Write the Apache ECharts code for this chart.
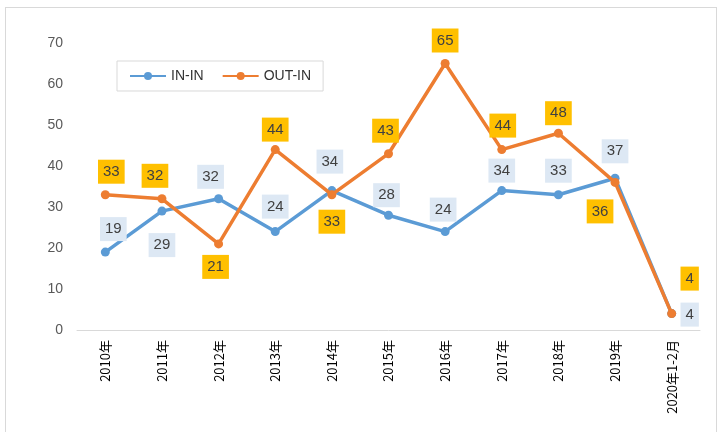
<!DOCTYPE html>
<html><head><meta charset="utf-8">
<script src="https://cdn.jsdelivr.net/npm/echarts@6/dist/echarts.min.js"></script>
<style>
html,body{margin:0;padding:0;background:#fff;}
#frame{position:absolute;left:5px;top:7px;width:712px;height:440px;border:1px solid #d9d9d9;box-sizing:border-box;}
#c{position:absolute;left:0;top:0;width:723px;height:432px;}
</style></head>
<body><div id="frame"></div><div id="c"></div>
<script>
const categories = ['2010年','2011年','2012年','2013年','2014年','2015年','2016年','2017年','2018年','2019年','2020年1-2月'];
const inIn = [19,29,32,24,34,28,24,34,33,37,4];
const outIn = [33,32,21,44,33,43,65,44,48,36,4];
const yTicks = {min:0, max:70, interval:10};

// label offsets (style only)
const inOff = [[8,-23],[0,34],[-8,-22],[0,-25],[-2,-29],[-2,-20],[-2,-22],[0,-20],[0,-24],[0,-27],[18,1]];
const outOff = [[6,-23],[-7,-23],[-3,23],[0,-20],[0,27],[-3,-23],[0,-23],[1,-24],[0,-20],[-15,29],[18,-35]];

function items(vals, offs){
  return vals.map((v,i)=>({value:v, label:{offset:offs[i]}}));
}
const chart = echarts.init(document.getElementById('c'));
const font = '"Liberation Sans", "Noto Sans CJK SC", sans-serif';
chart.setOption({
  animation:false,
  grid:{left:77,right:23,top:43,bottom:102,containLabel:false},
  legend:{
    left:117, top:61, itemWidth:36, itemHeight:10, itemGap:18,
    padding:[8,12,8,12],
    borderColor:'#d9d9d9', borderWidth:1,
    textStyle:{fontSize:14,color:'#333',fontFamily:font},
    data:['IN-IN','OUT-IN']
  },
  xAxis:{
    type:'category', data:categories, boundaryGap:true,
    axisLine:{lineStyle:{color:'#d9d9d9',width:1}},
    axisTick:{show:false},
    axisLabel:{rotate:90, color:'#000', fontSize:13, margin:10, fontFamily:'"Noto Sans CJK SC", sans-serif', interval:0}
  },
  yAxis:{
    type:'value', min:yTicks.min, max:yTicks.max, interval:yTicks.interval,
    axisLine:{show:false}, axisTick:{show:false},
    splitLine:{show:false},
    axisLabel:{color:'#595959', fontSize:14, margin:14, fontFamily:font}
  },
  series:[
    {name:'IN-IN', type:'line', data:items(inIn,inOff),
     symbol:'circle', symbolSize:9,
     lineStyle:{color:'#5b9bd5',width:3.5}, itemStyle:{color:'#5b9bd5'},
     label:{show:true, position:'inside', backgroundColor:'#dde8f4', color:'#404040',
       fontSize:15, fontFamily:font, padding:[5,5,4,5]},
     z:2},
    {name:'OUT-IN', type:'line', data:items(outIn,outOff),
     symbol:'circle', symbolSize:9,
     lineStyle:{color:'#ed7d31',width:3.5}, itemStyle:{color:'#ed7d31'},
     label:{show:true, position:'inside', backgroundColor:'#ffc000', color:'#404040',
       fontSize:15, fontFamily:font, padding:[5,5,4,5]},
     z:3}
  ]
});
</script></body></html>
